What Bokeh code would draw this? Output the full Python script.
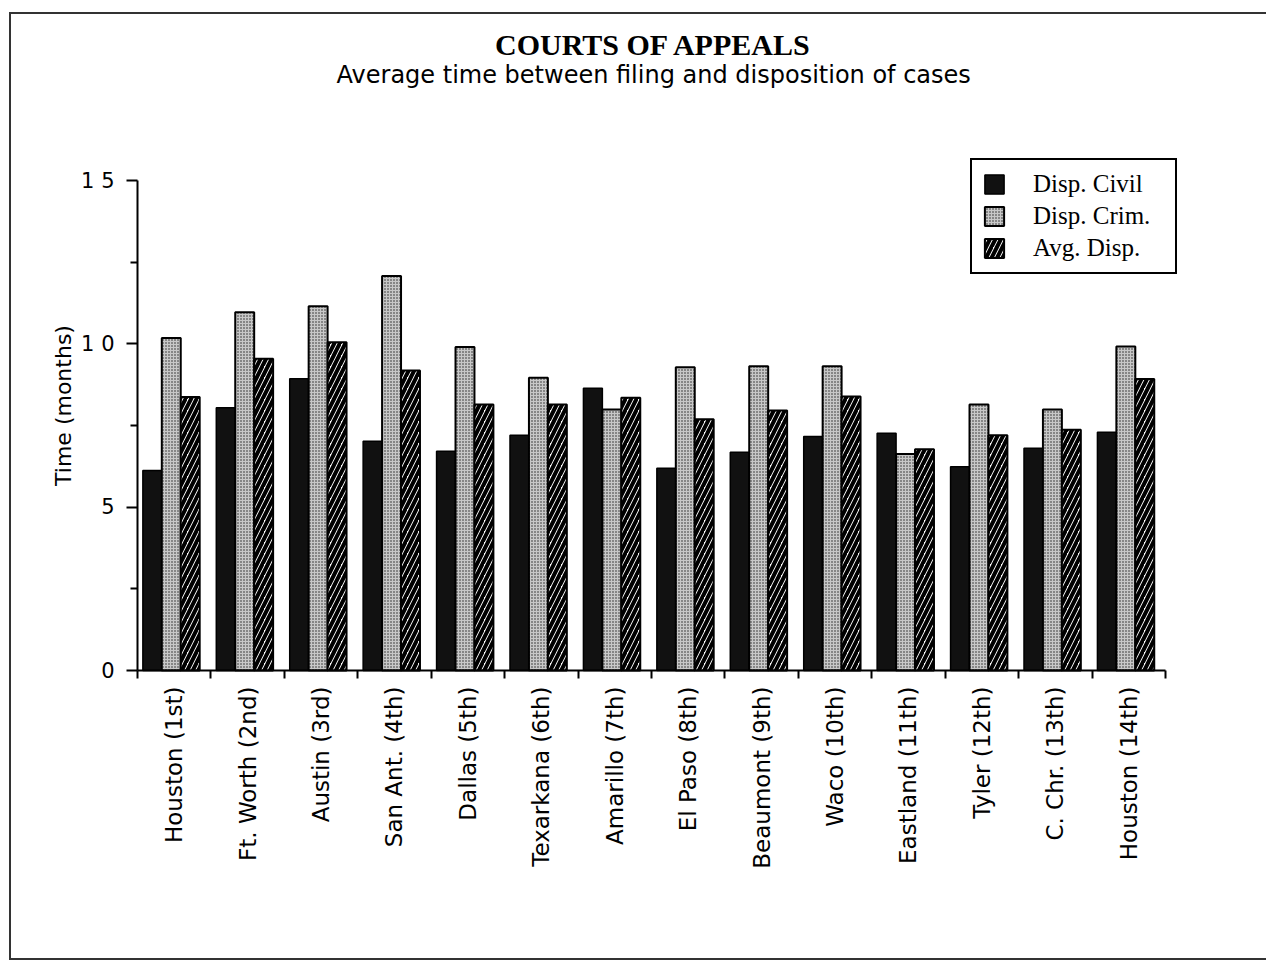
import math
import numpy as np
from bokeh.plotting import figure
from bokeh.models import (Range1d, FixedTicker, Label, ColumnDataSource, Legend,
                          LegendItem)
from bokeh.embed import file_html
from bokeh.resources import INLINE

courts = ["Houston (1st)", "Ft. Worth (2nd)", "Austin (3rd)", "San Ant. (4th)",
          "Dallas (5th)", "Texarkana (6th)", "Amarillo (7th)", "El Paso (8th)",
          "Beaumont (9th)", "Waco (10th)", "Eastland (11th)", "Tyler (12th)",
          "C. Chr. (13th)", "Houston (14th)"]
disp_civil = [6.12, 8.04, 8.93, 7.02, 6.71, 7.20, 8.64, 6.19, 6.68, 7.16, 7.26, 6.24, 6.80, 7.29]
disp_crim = [10.18, 10.97, 11.15, 12.08, 9.90, 8.96, 7.99, 9.28, 9.31, 9.31, 6.63, 8.14, 7.99, 9.92]
avg_disp = [8.37, 9.54, 10.05, 9.18, 8.14, 8.14, 8.35, 7.69, 7.96, 8.39, 6.77, 7.20, 7.37, 8.92]
series_names = ["Disp. Civil", "Disp. Crim.", "Avg. Disp."]
y_ticks = [0, 5, 10, 15]
y_minor = [2.5, 7.5, 12.5]
y_tick_text = {15: "1 5", 10: "1 0"}

SANS = "DejaVu Sans"
SERIF = "Liberation Serif"

n = len(courts)
centers = np.arange(n) + 0.5
bw = 0.258
shift = -0.04
# The frame covers almost the whole canvas; the axes are pinned at 0 so that
# titles, legend and axis texts all sit inside the frame.
X_START, X_END = -1.5934, 15.185
Y_BOT, Y_TOP = -8.5714, 19.898

p = figure(width=1257, height=948, x_range=Range1d(X_START, X_END),
           y_range=Range1d(Y_BOT, Y_TOP),
           output_backend="svg", toolbar_location=None,
           min_border_left=9, min_border_right=16, min_border_top=6,
           min_border_bottom=12)
p.xgrid.visible = False
p.ygrid.visible = False
p.outline_line_color = None
p.background_fill_color = "white"
p.border_fill_color = "white"
p.styles = {"margin-left": "9px", "margin-top": "12px",
            "border-top": "2px solid #333", "border-left": "2px solid #333",
            "border-bottom": "2px solid #333"}

src = ColumnDataSource(dict(xc=centers - bw + shift, xm=centers + shift,
                            xa=centers + bw + shift,
                            civil=disp_civil, crim=disp_crim, avg=avg_disp))

r1 = p.vbar(x="xc", top="civil", bottom=0, width=bw, source=src,
            fill_color="#111111", line_color="black", line_width=1.5)
r2 = p.vbar(x="xm", top="crim", bottom=0, width=bw, source=src,
            fill_color="#c8c8c8", line_color="black", line_width=2,
            hatch_pattern="dot", hatch_color="#222222", hatch_scale=3,
            hatch_weight=1.3)
r3 = p.vbar(x="xa", top="avg", bottom=0, width=bw, source=src,
            fill_color="white", line_color="black", line_width=2,
            hatch_pattern="right_diagonal_line", hatch_color="black",
            hatch_scale=11, hatch_weight=4)

# x axis: pinned at y=0, labels at centres, ticks at category boundaries
xa = p.xaxis[0]
xa.fixed_location = 0
xa.bounds = (0, n)
xa.ticker = FixedTicker(ticks=list(centers), minor_ticks=list(np.arange(n + 1)))
xa.major_label_overrides = {float(c): name for c, name in zip(centers, courts)}
xa.major_label_orientation = math.pi / 2
xa.major_tick_out = 0
xa.major_tick_in = 0
xa.major_tick_line_color = None
xa.minor_tick_out = 8
xa.minor_tick_in = 0
xa.minor_tick_line_width = 2
xa.axis_line_width = 2
xa.major_label_standoff = 8
xa.major_label_text_font = SANS
xa.major_label_text_font_size = "23px"
xa.major_label_text_color = "black"

# y axis: pinned at x=0
ya = p.yaxis[0]
ya.fixed_location = 0
ya.bounds = (0, 15)
ya.ticker = FixedTicker(ticks=y_ticks, minor_ticks=y_minor)
ya.major_label_overrides = y_tick_text
ya.major_tick_out = 11
ya.major_tick_in = 0
ya.minor_tick_out = 7
ya.minor_tick_in = 0
ya.major_tick_line_width = 2
ya.minor_tick_line_width = 2
ya.axis_line_width = 2
ya.major_label_standoff = 12
ya.major_label_text_font = SANS
ya.major_label_text_font_size = "21px"
ya.major_label_text_color = "black"

# y axis title
p.add_layout(Label(x=-1.0078, y=8.112, text="Time (months)", angle=math.pi / 2,
                   text_align="center", text_baseline="middle", text_font=SANS,
                   text_font_size="22px", text_color="black"))

# titles
p.add_layout(Label(x=7.03, y=19.16, text="COURTS OF APPEALS", text_align="center",
                   text_baseline="middle", text_font=SERIF, text_font_style="bold",
                   text_font_size="30px", text_color="black"))
p.add_layout(Label(x=7.03, y=18.24,
                   text="Average time between filing and disposition of cases",
                   text_align="center", text_baseline="middle", text_font=SANS,
                   text_font_size="24px", text_color="black"))

legend = Legend(items=[LegendItem(label=series_names[0], renderers=[r1]),
                       LegendItem(label=series_names[1], renderers=[r2]),
                       LegendItem(label=series_names[2], renderers=[r3])],
                location=(950, 676))
legend.label_text_font = SERIF
legend.label_text_font_size = "25px"
legend.label_text_color = "black"
legend.glyph_width = 24
legend.glyph_height = 24
legend.label_height = 20
legend.label_width = 132
legend.spacing = 4
legend.padding = 10
legend.margin = 0
legend.label_standoff = 27
legend.border_line_color = "black"
legend.border_line_alpha = 1.0
legend.border_line_width = 2
legend.background_fill_alpha = 1.0
p.add_layout(legend)

open("out.html", "w").write(file_html(p, INLINE))
